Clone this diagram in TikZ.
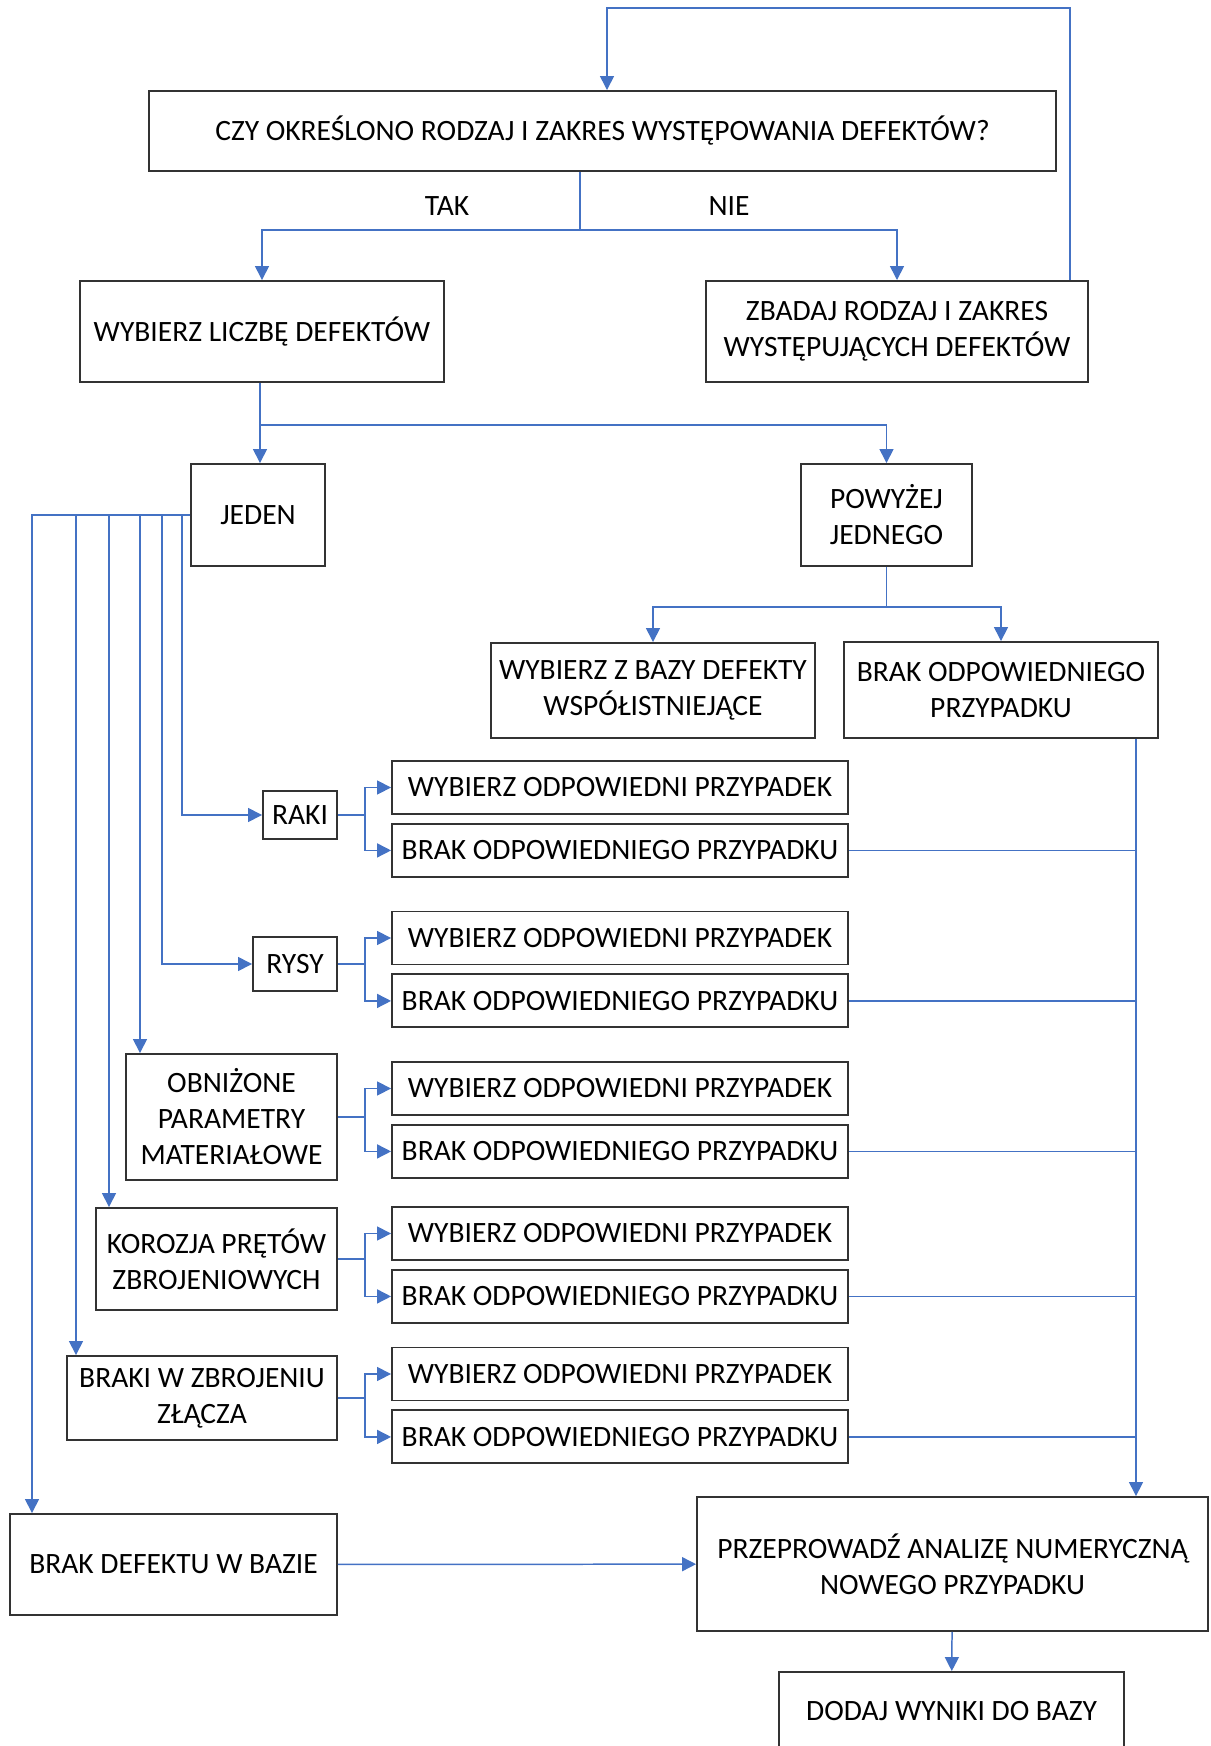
\documentclass[tikz,border=0pt]{standalone}
\usepackage{fontspec}
\setmainfont{Carlito}
\usetikzlibrary{positioning}
\usetikzlibrary{arrows.meta}

\definecolor{linkblue}{HTML}{4472C4}

\begin{document}
\begin{tikzpicture}[x=0.02cm,y=-0.02cm]
    \tikzset{box/.style={shape=rectangle,draw=black!80,line width=1.1pt,align=center,inner sep=2pt,font=\fontsize{16.8}{20.5}\selectfont}}
    \tikzset{pairbox/.style={box,minimum width=9.12cm,minimum height=1.06cm}}
    \tikzset{caption/.style={font=\fontsize{16.8}{20.5}\selectfont}}
    \tikzset{link/.style={draw=linkblue,line width=0.85pt}}
    \tikzset{edge/.style={link,-{Triangle[length=0.28cm,width=0.28cm]}}}
    \useasboundingbox (0,0) rectangle (1210,1746);

    % main question and first decision
    \node[box,minimum width=18.14cm,minimum height=1.6cm] (pytanie) at (602.5,131) {CZY OKREŚLONO RODZAJ I ZAKRES WYSTĘPOWANIA DEFEKTÓW?};
    \node[box,minimum width=7.28cm,minimum height=2.02cm] (liczba) at (262,331.5) {WYBIERZ LICZBĘ DEFEKTÓW};
    \node[box,minimum width=7.64cm,minimum height=2.02cm] (zbadaj) at (897,331.5) {ZBADAJ RODZAJ I ZAKRES\\WYSTĘPUJĄCYCH DEFEKTÓW};
    \node[caption] (tak) at (447,206) {TAK};
    \node[caption] (nie) at (729,206) {NIE};

    \node[box,minimum width=2.68cm,minimum height=2.04cm] (jeden) at (258,515) {JEDEN};
    \node[box,minimum width=3.42cm,minimum height=2.04cm] (powyzej) at (886.5,515) {POWYŻEJ\\JEDNEGO};
    \node[box,minimum width=6.48cm,minimum height=1.9cm] (wspol) at (653,690.5) {WYBIERZ Z BAZY DEFEKTY\\WSPÓŁISTNIEJĄCE};
    \node[box,minimum width=6.28cm,minimum height=1.92cm] (brakprz) at (1001,690) {BRAK ODPOWIEDNIEGO\\PRZYPADKU};

    % kinds of a single defect
    \node[box,minimum width=1.48cm,minimum height=0.96cm] (raki) at (300,815) {RAKI};
    \node[box,minimum width=1.68cm,minimum height=1.08cm] (rysy) at (295,964) {RYSY};
    \node[box,minimum width=4.22cm,minimum height=2.52cm] (obnizone) at (231.5,1117) {OBNIŻONE\\PARAMETRY\\MATERIAŁOWE};
    \node[box,minimum width=4.82cm,minimum height=2.04cm] (korozja) at (216.5,1259) {KOROZJA PRĘTÓW\\ZBROJENIOWYCH};
    \node[box,minimum width=5.4cm,minimum height=1.68cm] (braki) at (202,1398) {BRAKI W ZBROJENIU\\ZŁĄCZA};
    \node[box,minimum width=6.54cm,minimum height=2.02cm] (brakdef) at (173.5,1564.5) {BRAK DEFEKTU W BAZIE};

    \node[pairbox] (w1) at (620,787.5) {WYBIERZ ODPOWIEDNI PRZYPADEK};
    \node[pairbox] (b1) [below=0.16cm of w1] {BRAK ODPOWIEDNIEGO PRZYPADKU};
    \node[pairbox] (w2) at (620,938) {WYBIERZ ODPOWIEDNI PRZYPADEK};
    \node[pairbox] (b2) [below=0.16cm of w2] {BRAK ODPOWIEDNIEGO PRZYPADKU};
    \node[pairbox] (w3) at (620,1088.5) {WYBIERZ ODPOWIEDNI PRZYPADEK};
    \node[pairbox] (b3) [below=0.16cm of w3] {BRAK ODPOWIEDNIEGO PRZYPADKU};
    \node[pairbox] (w4) at (620,1233.5) {WYBIERZ ODPOWIEDNI PRZYPADEK};
    \node[pairbox] (b4) [below=0.16cm of w4] {BRAK ODPOWIEDNIEGO PRZYPADKU};
    \node[pairbox] (w5) at (620,1374) {WYBIERZ ODPOWIEDNI PRZYPADEK};
    \node[pairbox] (b5) [below=0.16cm of w5] {BRAK ODPOWIEDNIEGO PRZYPADKU};

    \node[box,minimum width=10.22cm,minimum height=2.68cm] (analiza) at (952.5,1564) {PRZEPROWADŹ ANALIZĘ NUMERYCZNĄ\\NOWEGO PRZYPADKU};
    \node[box,minimum width=6.9cm,minimum height=1.56cm] (dodaj) at (951.5,1711) {DODAJ WYNIKI DO BAZY};

    % helper points for the branches
    \coordinate (petla) at (1070,8);
    \coordinate (wejscie) at (607,0);
    \coordinate (takNie) at (580,230);
    \coordinate (ilosc) at (260,425);
    \coordinate (wiele) at (886.5,607);
    \coordinate (zbior) at (1136,0);
    \coordinate (rozw) at (365,0);
    \coordinate (j1) at (182,0);
    \coordinate (j2) at (162,0);
    \coordinate (j3) at (140,0);
    \coordinate (j4) at (109,0);
    \coordinate (j5) at (76,0);
    \coordinate (j6) at (32,0);

    \draw[edge] (zbadaj.north -| petla) -- (petla) -| (pytanie.north -| wejscie);
    \draw[link] (pytanie.south -| takNie) -- (takNie);
    \draw[edge] (takNie) -| (liczba.north);
    \draw[edge] (takNie) -| (zbadaj.north);

    \draw[link] (liczba.south -| ilosc) -- (ilosc);
    \draw[edge] (ilosc) -- (jeden.north -| ilosc);
    \draw[edge] (ilosc) -| (powyzej.north);

    \draw[link] (powyzej.south) -- (wiele);
    \draw[edge] (wiele) -| (wspol.north);
    \draw[edge] (wiele) -| (brakprz.north);

    \draw[edge] (jeden.west) -- (jeden.west -| j1) |- (raki.west);
    \draw[edge] (jeden.west) -- (jeden.west -| j2) |- (rysy.west);
    \draw[edge] (jeden.west) -| (j3 |- obnizone.north);
    \draw[edge] (jeden.west) -| (j4 |- korozja.north);
    \draw[edge] (jeden.west) -| (j5 |- braki.north);
    \draw[edge] (jeden.west) -| (j6 |- brakdef.north);

    \draw[edge] (raki.east) -- (raki.east -| rozw) |- (w1.west);
    \draw[edge] (raki.east -| rozw) |- (b1.west);
    \draw[edge] (rysy.east) -- (rysy.east -| rozw) |- (w2.west);
    \draw[edge] (rysy.east -| rozw) |- (b2.west);
    \draw[edge] (obnizone.east) -- (obnizone.east -| rozw) |- (w3.west);
    \draw[edge] (obnizone.east -| rozw) |- (b3.west);
    \draw[edge] (korozja.east) -- (korozja.east -| rozw) |- (w4.west);
    \draw[edge] (korozja.east -| rozw) |- (b4.west);
    \draw[edge] (braki.east) -- (braki.east -| rozw) |- (w5.west);
    \draw[edge] (braki.east -| rozw) |- (b5.west);

    \draw[edge] (brakprz.south -| zbior) -- (analiza.north -| zbior);
    \draw[link] (b1.east) -- (b1.east -| zbior);
    \draw[link] (b2.east) -- (b2.east -| zbior);
    \draw[link] (b3.east) -- (b3.east -| zbior);
    \draw[link] (b4.east) -- (b4.east -| zbior);
    \draw[link] (b5.east) -- (b5.east -| zbior);

    \draw[edge] (brakdef) -- (analiza);
    \draw[edge] (analiza) -- (dodaj);
\end{tikzpicture}
\end{document}
